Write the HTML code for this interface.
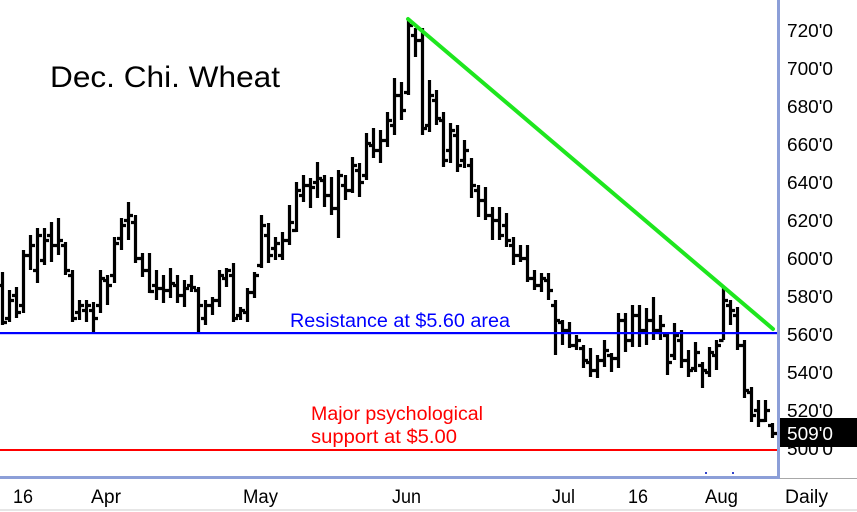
<!DOCTYPE html>
<html><head><meta charset="utf-8"><style>
html,body{margin:0;padding:0;background:#fff;}
svg{display:block;}
text{font-family:"Liberation Sans",Arial,sans-serif;}
</style></head><body>
<svg width="857" height="512" viewBox="0 0 857 512" xmlns="http://www.w3.org/2000/svg">
<rect width="857" height="512" fill="#fff"/>
<rect x="0" y="509" width="857" height="2" fill="#e6e6e6"/>
<rect x="780" y="478" width="77" height="1" fill="#a8a8a8"/>
<path fill="none" stroke="#000" stroke-width="3.2" stroke-linecap="butt" d="
M2.5 272V325M-2 285.5H2.5M2.5 322.5H7
M9.5 290V322M5 318.5H9.5M9.5 300.5H14
M16.5 287V318M12 295.5H16.5M16.5 312.5H21
M23.5 250V313M19 305.5H23.5M23.5 255.5H28
M30.5 235V270M26 255.5H30.5M30.5 245.5H35
M37.5 228V283M33 270.5H37.5M37.5 235.5H42
M44.5 228V265M40 260.5H44.5M44.5 240.5H49
M51.5 222V262M47 235.5H51.5M51.5 245.5H56
M58.5 218V255M54 245.5H58.5M58.5 240.5H63
M65.5 242V275M61 245.5H65.5M65.5 270.5H70
M72.5 270V322M68 275.5H72.5M72.5 318.5H77
M79.5 300V320M75 312.5H79.5M79.5 305.5H84
M86.5 300V322M82 310.5H86.5M86.5 305.5H91
M93.5 302V332M89 310.5H93.5M93.5 318.5H98
M100.5 270V313M96 305.5H100.5M100.5 278.5H105
M107.5 275V305M103 280.5H107.5M107.5 285.5H112
M114.5 237V283M110 275.5H114.5M114.5 243.5H119
M121.5 218V250M117 238.5H121.5M121.5 225.5H126
M128.5 202V240M124 220.5H128.5M128.5 215.5H133
M135.5 215V263M131 222.5H135.5M135.5 258.5H140
M142.5 253V277M138 258.5H142.5M142.5 270.5H147
M149.5 253V293M145 270.5H149.5M149.5 291.5H154
M156.5 270V300M152 285.5H156.5M156.5 288.5H161
M163.5 275V303M159 288.5H163.5M163.5 290.5H168
M170.5 268V298M166 290.5H170.5M170.5 283.5H175
M177.5 275V303M173 285.5H177.5M177.5 295.5H182
M184.5 280V307M180 295.5H184.5M184.5 288.5H189
M191.5 275V292M187 285.5H191.5M191.5 287.5H196
M198.5 287V332M194 290.5H198.5M198.5 305.5H203
M205.5 300V325M201 318.5H205.5M205.5 305.5H210
M212.5 297V315M208 305.5H212.5M212.5 300.5H217
M219.5 270V307M215 300.5H219.5M219.5 275.5H224
M226.5 268V287M222 278.5H226.5M226.5 270.5H231
M233.5 263V322M229 275.5H233.5M233.5 318.5H238
M240.5 307V320M236 315.5H240.5M240.5 310.5H245
M247.5 288V322M243 312.5H247.5M247.5 292.5H252
M254.5 272V298M250 292.5H254.5M254.5 275.5H259
M261.5 215V268M257 265.5H261.5M261.5 225.5H266
M268.5 223V263M264 235.5H268.5M268.5 255.5H273
M275.5 237V260M271 248.5H275.5M275.5 243.5H280
M282.5 232V260M278 255.5H282.5M282.5 240.5H287
M289.5 205V245M285 240.5H289.5M289.5 222.5H294
M296.5 182V232M292 230.5H296.5M296.5 190.5H301
M303.5 175V202M299 195.5H303.5M303.5 185.5H308
M310.5 178V208M306 185.5H310.5M310.5 187.5H315
M317.5 162V198M313 182.5H317.5M317.5 178.5H322
M324.5 175V207M320 180.5H324.5M324.5 195.5H329
M331.5 177V215M327 195.5H331.5M331.5 208.5H336
M338.5 170V238M334 208.5H338.5M338.5 175.5H343
M345.5 175V200M341 185.5H345.5M345.5 190.5H350
M352.5 157V193M348 190.5H352.5M352.5 165.5H357
M359.5 163V197M355 170.5H359.5M359.5 182.5H364
M366.5 133V180M362 175.5H366.5M366.5 143.5H371
M373.5 128V158M369 145.5H373.5M373.5 150.5H378
M380.5 130V163M376 150.5H380.5M380.5 140.5H385
M387.5 112V147M383 140.5H387.5M387.5 120.5H392
M394.5 78V135M390 125.5H394.5M394.5 95.5H399
M401.5 82V120M397 95.5H401.5M401.5 110.5H406
M408.5 20V95M404 92.5H408.5M408.5 25.5H413
M415.5 28V57M411 35.5H415.5M415.5 40.5H420
M422.5 28V135M418 40.5H422.5M422.5 128.5H427
M429.5 80V132M425 125.5H429.5M429.5 95.5H434
M436.5 90V125M432 100.5H436.5M436.5 118.5H441
M443.5 112V167M439 120.5H443.5M443.5 160.5H448
M450.5 123V163M446 150.5H450.5M450.5 130.5H455
M457.5 125V172M453 135.5H457.5M457.5 165.5H462
M464.5 140V168M460 160.5H464.5M464.5 150.5H469
M471.5 158V198M467 165.5H471.5M471.5 185.5H476
M478.5 185V217M474 190.5H478.5M478.5 200.5H483
M485.5 187V220M481 200.5H485.5M485.5 215.5H490
M492.5 207V240M488 215.5H492.5M492.5 220.5H497
M499.5 207V240M495 220.5H499.5M499.5 235.5H504
M506.5 213V247M502 225.5H506.5M506.5 240.5H511
M513.5 237V265M509 245.5H513.5M513.5 255.5H518
M520.5 245V262M516 255.5H520.5M520.5 258.5H525
M527.5 245V282M523 258.5H527.5M527.5 278.5H532
M534.5 270V290M530 278.5H534.5M534.5 285.5H539
M541.5 273V292M537 285.5H541.5M541.5 278.5H546
M548.5 273V300M544 280.5H548.5M548.5 290.5H553
M555.5 300V355M551 305.5H555.5M555.5 320.5H560
M562.5 320V345M558 322.5H562.5M562.5 330.5H567
M569.5 322V348M565 330.5H569.5M569.5 345.5H574
M576.5 335V350M572 345.5H576.5M576.5 340.5H581
M583.5 345V368M579 348.5H583.5M583.5 360.5H588
M590.5 348V377M586 362.5H590.5M590.5 370.5H595
M597.5 355V378M593 370.5H597.5M597.5 360.5H602
M604.5 340V367M600 360.5H604.5M604.5 350.5H609
M611.5 353V372M607 355.5H611.5M611.5 358.5H616
M618.5 313V368M614 358.5H618.5M618.5 320.5H623
M625.5 313V352M621 320.5H625.5M625.5 340.5H630
M632.5 305V347M628 340.5H632.5M632.5 315.5H637
M639.5 305V347M635 315.5H639.5M639.5 330.5H644
M646.5 308V345M642 330.5H646.5M646.5 320.5H651
M653.5 297V340M649 320.5H653.5M653.5 330.5H658
M660.5 315V340M656 330.5H660.5M660.5 325.5H665
M667.5 332V375M663 335.5H667.5M667.5 362.5H672
M674.5 323V360M670 355.5H674.5M674.5 335.5H679
M681.5 330V368M677 340.5H681.5M681.5 360.5H686
M688.5 350V377M684 360.5H688.5M688.5 370.5H693
M695.5 342V372M691 368.5H695.5M695.5 352.5H700
M702.5 362V388M698 365.5H702.5M702.5 370.5H707
M709.5 347V377M705 372.5H709.5M709.5 352.5H714
M716.5 340V370M712 355.5H716.5M716.5 345.5H721
M723.5 288V340M719 340.5H723.5M723.5 300.5H728
M730.5 300V325M726 305.5H730.5M730.5 310.5H735
M737.5 307V350M733 315.5H737.5M737.5 345.5H742
M744.5 340V398M740 345.5H744.5M744.5 390.5H749
M751.5 387V422M747 392.5H751.5M751.5 415.5H756
M758.5 400V427M754 410.5H758.5M758.5 420.5H763
M765.5 400V422M761 420.5H765.5M765.5 410.5H770
M772.5 423V438M768 425.5H772.5M772.5 433.5H777"/>
<rect x="0" y="332" width="778" height="2.2" fill="#0000ff"/>
<rect x="0" y="449" width="778" height="2" fill="#ff0000"/>
<line x1="408" y1="19" x2="773" y2="329" stroke="#1ee61e" stroke-width="4" stroke-linecap="round"/>
<rect x="705" y="472" width="2" height="2" fill="#3344cc"/>
<rect x="732" y="472" width="2" height="2" fill="#3344cc"/>
<text x="50" y="87" font-size="30" fill="#000" textLength="230" lengthAdjust="spacingAndGlyphs">Dec. Chi. Wheat</text>
<text x="290" y="327" font-size="19" fill="#0000ff" textLength="220" lengthAdjust="spacingAndGlyphs">Resistance at $5.60 area</text>
<text x="311" y="420" font-size="19" fill="#ff0000" textLength="172" lengthAdjust="spacingAndGlyphs">Major psychological</text>
<text x="311" y="443" font-size="19" fill="#ff0000" textLength="146" lengthAdjust="spacingAndGlyphs">support at $5.00</text>
<rect x="777" y="0" width="3" height="479" fill="#8c9fd8"/>
<rect x="0" y="476" width="780" height="3" fill="#8c9fd8"/>
<g font-size="18" fill="#000">
<text x="787" y="37" textLength="46" lengthAdjust="spacingAndGlyphs">720'0</text>
<text x="787" y="75" textLength="46" lengthAdjust="spacingAndGlyphs">700'0</text>
<text x="787" y="113" textLength="46" lengthAdjust="spacingAndGlyphs">680'0</text>
<text x="787" y="151" textLength="46" lengthAdjust="spacingAndGlyphs">660'0</text>
<text x="787" y="189" textLength="46" lengthAdjust="spacingAndGlyphs">640'0</text>
<text x="787" y="227" textLength="46" lengthAdjust="spacingAndGlyphs">620'0</text>
<text x="787" y="265" textLength="46" lengthAdjust="spacingAndGlyphs">600'0</text>
<text x="787" y="303" textLength="46" lengthAdjust="spacingAndGlyphs">580'0</text>
<text x="787" y="341" textLength="46" lengthAdjust="spacingAndGlyphs">560'0</text>
<text x="787" y="379" textLength="46" lengthAdjust="spacingAndGlyphs">540'0</text>
<text x="787" y="417" textLength="46" lengthAdjust="spacingAndGlyphs">520'0</text>
<text x="787" y="455" textLength="46" lengthAdjust="spacingAndGlyphs">500'0</text>
</g>
<rect x="780" y="418" width="77" height="29" fill="#000"/>
<text x="787" y="440" font-size="18" fill="#fff" textLength="46" lengthAdjust="spacingAndGlyphs">509'0</text>
<g font-size="19" fill="#000">
<text x="13" y="503" textLength="20" lengthAdjust="spacingAndGlyphs">16</text>
<text x="91" y="503" textLength="30" lengthAdjust="spacingAndGlyphs">Apr</text>
<text x="243" y="503" textLength="35" lengthAdjust="spacingAndGlyphs">May</text>
<text x="392" y="503" textLength="29" lengthAdjust="spacingAndGlyphs">Jun</text>
<text x="552" y="503" textLength="23" lengthAdjust="spacingAndGlyphs">Jul</text>
<text x="628" y="503" textLength="20" lengthAdjust="spacingAndGlyphs">16</text>
<text x="705" y="503" textLength="33" lengthAdjust="spacingAndGlyphs">Aug</text>
<text x="785" y="503" textLength="43" lengthAdjust="spacingAndGlyphs">Daily</text>
</g>
</svg>
</body></html>
